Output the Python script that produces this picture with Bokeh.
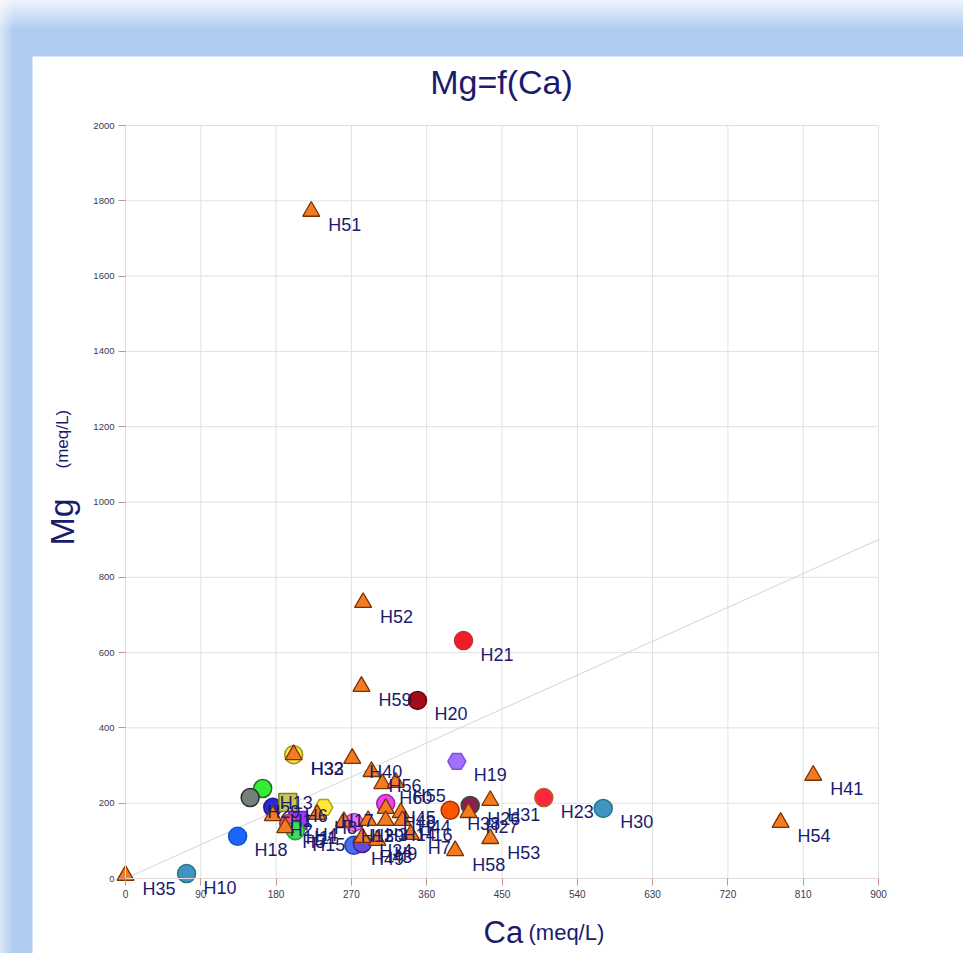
from bokeh.plotting import figure
from bokeh.models import (FixedTicker, Label, LabelSet, ColumnDataSource, Spacer,
                          LinearAxis, Range1d, Grid)
from bokeh.layouts import column, row
from bokeh.embed import file_html
from bokeh.resources import INLINE
from bokeh.core.properties import value

# ---------------- data ----------------
tri_names = ["H51", "H52", "H59", "H40", "H56", "H60", "H55", "H48", "H14", "H44",
             "H16", "H3", "H12", "H34", "H9", "H2", "H5", "H8", "H27", "H31",
             "H53", "H58", "H7", "H41", "H54", "H35", "H33"]
tri_ca = [222, 284, 282, 271, 294, 307, 323, 311, 311, 329,
          331, 290, 261, 283, 301, 176, 191, 229, 410, 436,
          436, 394, 341, 822, 783, 0, 201]
tri_mg = [1772, 733, 510, 319, 284, 252, 255, 186, 154, 175,
          154, 154, 151, 109, 101, 167, 135, 170, 175, 207,
          106, 74, 117, 274, 149, 8, 329]

pt_names = ["H10", "H30", "H23", "H21", "H20", "H19", "H18", "H13", "H29", "H1",
            "H6", "H17", "H4", "H11", "H15", "H45", "H39", "H49", "H43", "H38",
            "H26", "H32"]
pt_ca = [73, 571, 500, 404, 349, 396, 134, 164, 149, 176,
         194, 237, 206, 195, 203, 311, 273, 273, 283, 388,
         412, 201]
pt_mg = [13, 186, 215, 632, 473, 311, 112, 239, 215, 189,
         202, 189, 154, 146, 127, 199, 149, 88, 93, 181,
         194, 329]

x_ticks = [0, 90, 180, 270, 360, 450, 540, 630, 720, 810, 900]
y_ticks = [0, 200, 400, 600, 800, 1000, 1200, 1400, 1600, 1800, 2000]

# ---------------- styles ----------------
pt_marker = ["circle", "circle", "circle", "circle", "circle", "hex", "circle", "circle", "circle", "circle",
             "square", "hex", "square", "circle", "circle", "circle", "circle", "circle", "circle", "circle",
             "circle", "circle"]
pt_fill = ["#4193c4", "#4193c4", "#ff2440", "#f01c28", "#a00c18", "#a070ff", "#1a66ff", "#33ee33", "#74827a", "#2a2ad8",
           "#c8c850", "#ffe83a", "#9a3cff", "#f0508c", "#3fdc5a", "#ee44ee", "#f070f0", "#4a6ef0", "#6a48d8", "#ff5500",
           "#8a2050", "#f2e640"]
pt_line = ["#1f7a80", "#1f7a80", "#b06020", "#c03030", "#700010", "#8050e0", "#1050c0", "#207020", "#303030", "#1a1a90",
           "#808020", "#b0a020", "#6020b0", "#b03060", "#20a040", "#a020a0", "#b040b0", "#2040b0", "#402090", "#a03000",
           "#305030", "#a09020"]

NAVY = "#1b1b6e"
FONT = "Liberation Sans"

# figure geometry: the plot area (0..900 x 0..2000) sits inside a larger frame
W, H = 931, 897          # figure size
FL, FT = 93, 69          # plot-area offset inside the figure
PW, PH = 753, 753        # plot-area size
kx = PW / (x_ticks[-1] - x_ticks[0])
ky = PH / (y_ticks[-1] - y_ticks[0])
xs = x_ticks[0] - FL / kx
ye = y_ticks[-1] + FT / ky

p = figure(width=W, height=H, x_range=Range1d(xs, xs + W / kx), y_range=Range1d(ye - H / ky, ye),
           x_axis_location=None, y_axis_location=None, min_border=0,
           output_backend="svg", toolbar_location=None,
           background_fill_color="white", border_fill_color="white")
p.outline_line_color = None
for r in list(p.center):
    if isinstance(r, Grid):
        r.visible = False

# grid lines over the plot area
n_x, n_y = len(x_ticks), len(y_ticks)
p.segment(x0=x_ticks, y0=[y_ticks[0]] * n_x, x1=x_ticks, y1=[y_ticks[-1]] * n_x,
          line_color="#e0e0e0", line_width=1)
p.segment(x0=[x_ticks[0]] * n_y, y0=y_ticks, x1=[x_ticks[-1]] * n_y, y1=y_ticks,
          line_color="#e0e0e0", line_width=1)

# axes fixed at the plot-area edges
xa = LinearAxis(fixed_location=y_ticks[0], bounds=(x_ticks[0], x_ticks[-1]),
                ticker=FixedTicker(ticks=x_ticks))
ya = LinearAxis(fixed_location=x_ticks[0], bounds=(y_ticks[0], y_ticks[-1]),
                ticker=FixedTicker(ticks=y_ticks))
for ax, tout, stand, fs in ((xa, 7, 4, "10px"), (ya, 7, 4, "9.5px")):
    ax.axis_line_color = "#e4d8d8"
    ax.major_tick_line_color = "#c89090"
    ax.major_tick_out = tout
    ax.major_tick_in = 0
    ax.minor_tick_line_color = None
    ax.major_label_text_font = FONT
    ax.major_label_text_font_size = fs
    ax.major_label_text_color = "#3a3a50"
    ax.major_label_standoff = stand
p.add_layout(xa, "below")
p.add_layout(ya, "left")

# reference line Mg = Ca
p.line([x_ticks[0], x_ticks[-1]], [x_ticks[0], x_ticks[-1]], line_color="#d4d4d4", line_width=1)

# circles / hexagons / squares
src_pt = ColumnDataSource(dict(x=pt_ca, y=pt_mg, name=pt_names, marker=pt_marker,
                               fill=pt_fill, line=pt_line))
p.scatter("x", "y", source=src_pt, marker="marker", size=18, fill_color="fill",
          line_color="line", line_width=1.5)

# triangles
src_tri = ColumnDataSource(dict(x=tri_ca, y=tri_mg, name=tri_names))
p.scatter("x", "y", source=src_tri, marker="triangle", size=17, fill_color="#f47b20",
          line_color="#7a3300", line_width=1.3)

# point labels
for src in (src_pt, src_tri):
    p.add_layout(LabelSet(x="x", y="y", text="name", source=src, x_offset=17, y_offset=-14,
                          text_font=value(FONT), text_font_size=value("18px"),
                          text_color=value(NAVY), text_baseline=value("middle"),
                          text_align=value("left")))

# chart title and axis titles (screen units from the bottom-left of the figure)
def add_text(x, y, txt, size, angle=0.0, align="left"):
    p.add_layout(Label(x=x, y=y, x_units="screen", y_units="screen", text=txt, angle=angle,
                       text_font=FONT, text_font_size=size, text_color=NAVY,
                       text_baseline="alphabetic", text_align=align))

add_text(469, 872, "Mg=f(Ca)", "34px", align="center")
add_text(451, 21, "Ca", "31px")
add_text(496, 21, "(meq/L)", "22px")
add_text(29, 408, "Mg", "34px", angle=1.5708)
add_text(30, 485, "(meq/L)", "17px", angle=1.5708)

layout = column(Spacer(height=56),
                row(Spacer(width=32), p),
                styles={"background": "linear-gradient(to right, rgba(255,255,255,0.55) 0px, rgba(255,255,255,0) 14px), "
                                      "linear-gradient(to bottom, #eef4fc 0px, #aecbf2 30px, #aecbf2 100%)"})

open("out.html", "w").write(file_html(layout, INLINE))
